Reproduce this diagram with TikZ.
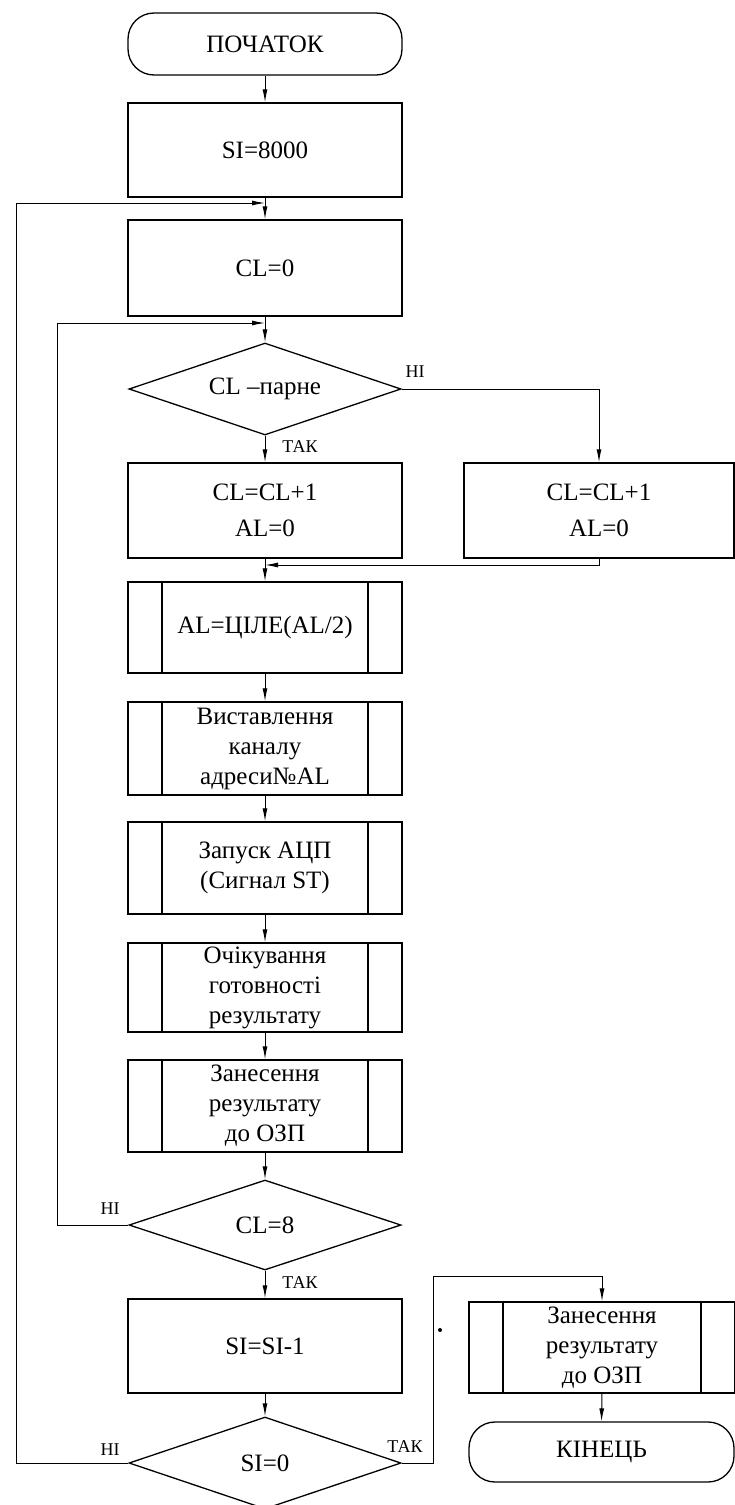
\documentclass[tikz,border=0pt]{standalone}
\usepackage{fontspec}
\setmainfont{Liberation Serif}
\usetikzlibrary{shapes.geometric,arrows.meta}
\begin{document}
\begin{tikzpicture}[x=1pt,y=-1pt,
  every node/.style={font=\fontsize{25}{30}\selectfont},
  box/.style={draw, line width=1.3pt, rectangle, minimum width=274pt, minimum height=94pt, inner sep=0pt, align=center},
  subbox/.style={box, path picture={\draw[line width=1.3pt]
      ([xshift=34pt]path picture bounding box.north west) -- ([xshift=34pt]path picture bounding box.south west)
      ([xshift=-34pt]path picture bounding box.north east) -- ([xshift=-34pt]path picture bounding box.south east);}},
  term/.style={draw, line width=1.3pt, rectangle, rounded corners=26pt, minimum width=274pt, minimum height=62pt, inner sep=0pt},
  dec/.style={draw, line width=1.3pt, diamond, aspect=2.95, minimum width=272pt, minimum height=92pt, inner sep=0pt},
  lab/.style={font=\fontsize{18}{20}\selectfont, inner sep=0pt},
  conn/.style={line width=1pt, -{Latex[length=13pt,width=5pt]}},
]
\fill[white] (0,0) rectangle (735,1505);
\useasboundingbox (0,0) rectangle (735,1505);

\node[term] (start) at (265,44) {ПОЧАТОК};
\node[box] (si) at (265,150) {SI=8000};
\node[box, minimum height=96pt] (cl0) at (265,268) {CL=0};
\node[dec] (d1) at (265,389) {CL –парне};
\node[box, minimum height=95pt] (b1) at (265,510.5) {CL=CL+1\\[6pt]AL=0};
\node[box, minimum width=270pt, minimum height=95pt] (b2) at (599,510.5) {CL=CL+1\\[6pt]AL=0};
\node[subbox, minimum height=91pt] (s1) at (265,627.5) {AL=ЦІЛЕ(AL/2)};
\node[subbox, minimum height=93pt] (s2) at (265,748.5) {Виставлення\\каналу\\адреси№AL};
\node[subbox, minimum height=92pt] (s3) at (265,868) {Запуск АЦП\\(Сигнал ST)};
\node[subbox, minimum height=89pt] (s4) at (265,987.5) {Очікування\\готовності\\результату};
\node[subbox, minimum height=92pt] (s5) at (265,1106) {Занесення\\результату\\до ОЗП};
\node[dec, minimum height=90pt] (d2) at (265,1225) {CL=8};
\node[box] (b3) at (265,1346) {SI=SI-1};
\node[dec] (d3) at (265,1463) {SI=0};
\node[subbox, minimum width=266pt, minimum height=91pt] (s6) at (602,1347.5) {Занесення\\результату\\до ОЗП};
\node[term, minimum width=265pt, minimum height=60pt] (end) at (601.5,1452) {КІНЕЦЬ};

\coordinate (j1) at (265,203);
\coordinate (ol) at (16,203);
\coordinate (j2) at (265,323);
\coordinate (il) at (57,323);
\coordinate (j3) at (265,565);
\coordinate (t1) at (433,1276);

\draw[conn] (start.south) -- (si.north);
\draw[conn] (si.south) -- (cl0.north);
\draw[conn] (cl0.south) -- (d1.north);
\draw[conn] (d1.south) -- (b1.north);
\draw[conn] (d1.east) -| (b2.north);
\draw[conn] (b1.south) -- (s1.north);
\draw[conn] (b2.south) |- (j3);
\draw[conn] (s1.south) -- (s2.north);
\draw[conn] (s2.south) -- (s3.north);
\draw[conn] (s3.south) -- (s4.north);
\draw[conn] (s4.south) -- (s5.north);
\draw[conn] (s5.south) -- (d2.north);
\draw[conn] (d2.west) -| (il) -- (j2);
\draw[conn] (d2.south) -- (b3.north);
\draw[conn] (b3.south) -- (d3.north);
\draw[conn] (d3.west) -| (ol) -- (j1);
\draw[conn] (d3.east) -| (t1) -| (s6.north);
\draw[conn] (s6.south) -- (end.north);

\node[lab] (l1) at (415,372) {НІ};
\node[lab] (l2) at (300,447) {ТАК};
\node[lab] (l3) at (110,1209) {НІ};
\node[lab] (l4) at (300,1283) {ТАК};
\node[lab] (l5) at (110,1450) {НІ};
\node[lab] (l6) at (405,1447) {ТАК};
\node[circle, fill, inner sep=0pt, minimum size=4pt] (dot) at (440,1330) {};
\end{tikzpicture}
\end{document}
